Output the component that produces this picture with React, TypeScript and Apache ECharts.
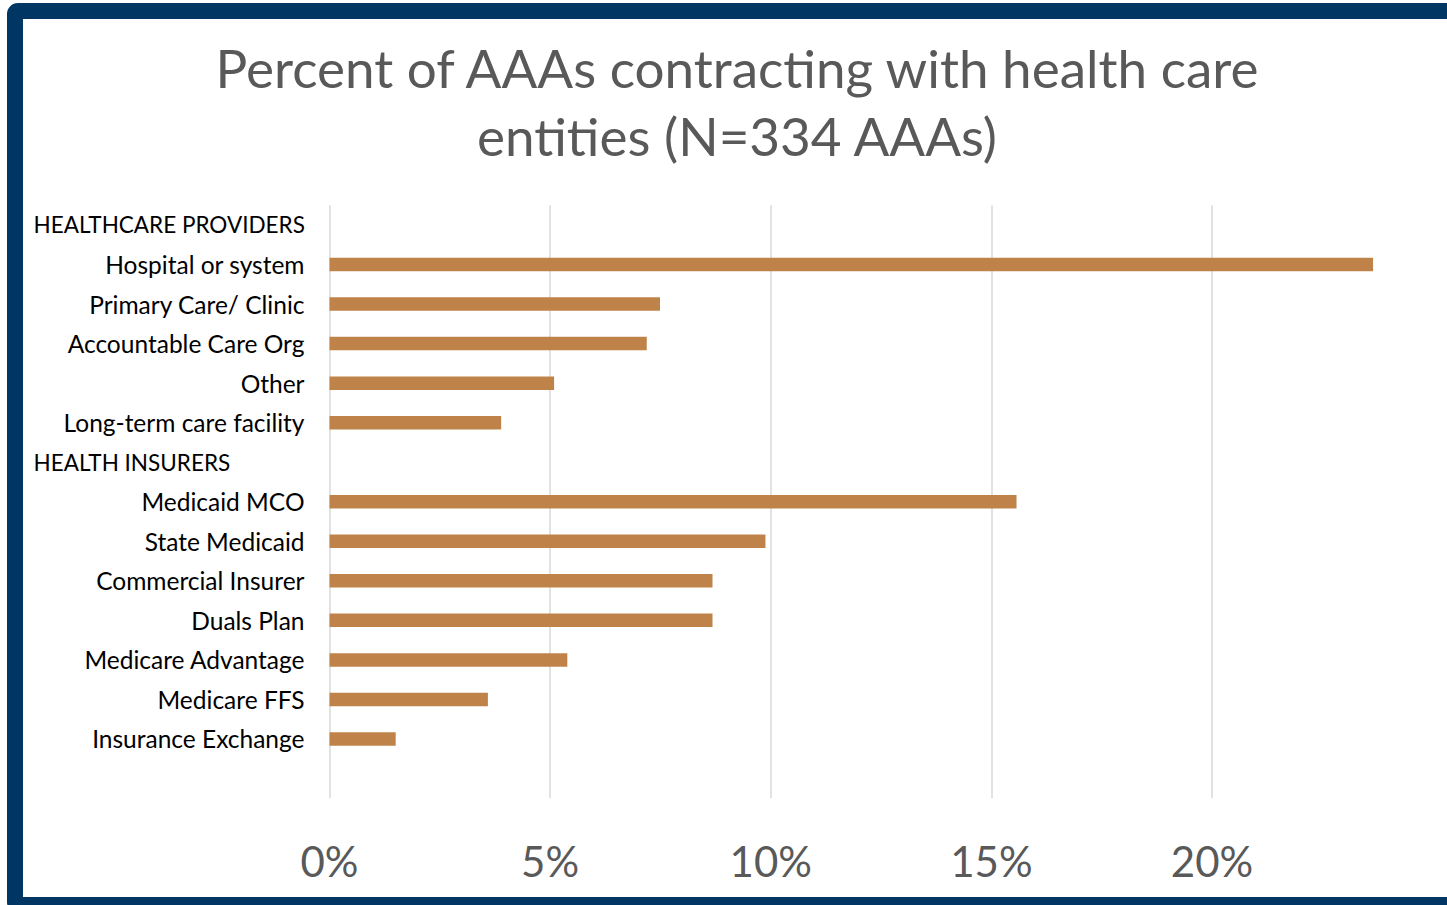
import React, { useEffect, useRef } from "react";
import * as echarts from "echarts";

const TITLE = "Percent of AAAs contracting with health care\nentities (N=334 AAAs)";

const categories = [
  "HEALTHCARE PROVIDERS",
  "Hospital or system",
  "Primary Care/ Clinic",
  "Accountable Care Org",
  "Other",
  "Long-term care facility",
  "HEALTH INSURERS",
  "Medicaid MCO",
  "State Medicaid",
  "Commercial Insurer",
  "Duals Plan",
  "Medicare Advantage",
  "Medicare FFS",
  "Insurance Exchange",
  "",
];

const headers = ["HEALTHCARE PROVIDERS", "HEALTH INSURERS"];

const values: (number | null)[] = [
  null, 23.65, 7.49, 7.19, 5.09, 3.89,
  null, 15.57, 9.88, 8.68, 8.68, 5.39, 3.59, 1.5,
  null,
];

const gridTicks = [0, 5, 10, 15, 20];

const FONT = "Lato, 'Open Sans', sans-serif";

export default function App() {
  const ref = useRef<HTMLDivElement>(null);
  useEffect(() => {
    if (!ref.current) return;
    const chart = echarts.init(ref.current, undefined, { renderer: "svg" });
    const left = 329.5;
    const pxPer = 44.125;
    const xMax = 24;
    const gridWidth = pxPer * xMax;
    chart.setOption({
      animation: false,
      backgroundColor: "#ffffff",
      textStyle: { fontFamily: FONT },
      graphic: [
        {
          type: "rect",
          z: 100,
          silent: true,
          shape: { x: 15, y: 11, width: 1500, height: 894, r: 3 },
          style: { fill: "none", stroke: "#003663", lineWidth: 16 },
        },
        {
          type: "text",
          x: 737,
          y: 101,
          style: {
            text: TITLE,
            fontFamily: FONT,
            fontSize: 53,
            lineHeight: 68,
            fill: "#595959",
            align: "center",
            verticalAlign: "middle",
          },
        },
      ],
      grid: {
        left: left,
        width: gridWidth,
        top: 205.2,
        height: 39.54 * categories.length,
        containLabel: false,
      },
      xAxis: {
        type: "value",
        min: 0,
        max: xMax,
        interval: 5,
        splitLine: { show: false },
        axisLine: { show: false },
        axisTick: { show: false },
        axisLabel: {
          margin: 42,
          fontSize: 42,
          color: "#595959",
          fontFamily: FONT,
          formatter: (v: number) => (gridTicks.includes(v) ? v + "%" : ""),
        },
      },
      yAxis: {
        type: "category",
        inverse: true,
        data: categories,
        axisLine: { show: false },
        axisTick: { show: false },
        axisLabel: {
          margin: 25,
          fontSize: 24.5,
          color: "#000000",
          fontFamily: FONT,
          formatter: (v: string) => (headers.includes(v) ? "{h|" + v + "}" : v),
          rich: {
            h: {
              width: 271,
              align: "left",
              fontSize: 22.5,
              color: "#000000",
              fontFamily: FONT,
            },
          },
        },
      },
      series: [
        {
          type: "bar",
          data: values,
          barWidth: 13.5,
          z: 2,
          itemStyle: { color: "#BF834A" },
          markLine: {
            silent: true,
            z: 1,
            symbol: "none",
            label: { show: false },
            lineStyle: { color: "#d9d9d9", width: 1.5, type: "solid" },
            data: gridTicks.map((t) => ({ xAxis: t })),
          },
        },
      ],
    });
    return () => chart.dispose();
  }, []);
  return (
    <div
      ref={ref}
      style={{ position: "fixed", left: 0, top: 0, width: 1447, height: 905 }}
    />
  );
}
